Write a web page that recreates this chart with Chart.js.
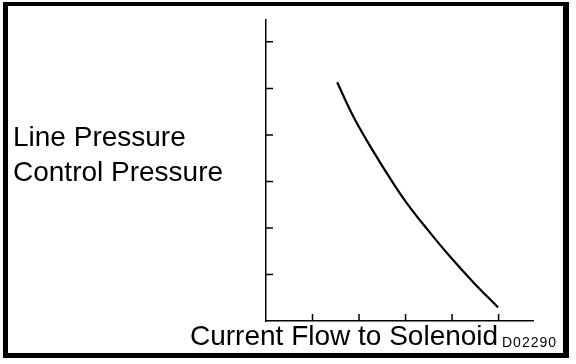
<!DOCTYPE html>
<html lang="en">
<head>
    <meta charset="UTF-8">
    <title>Line Pressure vs Current Flow to Solenoid</title>
    <script src="https://cdn.jsdelivr.net/npm/chart.js@4/dist/chart.umd.min.js"></script>
    <style>
    body {
      margin: 0;
      background: #fff;
    }
    .wrap {
      position: relative;
      width: 576px;
      height: 364px;
      font-family: "Liberation Sans", Arial, sans-serif;
      color: #000;
    }
    .frame {
      position: absolute;
      left: 3px;
      top: 2px;
      width: 566px;
      height: 356px;
      box-sizing: border-box;
      border: 5px solid #000;
      border-top-width: 4px;
      border-right-width: 6px;
    }
    .label {
      position: absolute;
      line-height: 1;
      white-space: nowrap;
    }
    canvas {
      position: absolute;
      left: 0;
      top: 0;
    }
    </style>
</head>
<body>
    <div class="wrap">
        <canvas id="pressureChart" width="576" height="364"></canvas>
        <div class="frame"></div>
        <div class="label" style="left:13px; top:123px; font-size:28px;">Line Pressure</div>
        <div class="label" style="left:13px; top:158px; font-size:28px;">Control Pressure</div>
        <div class="label" style="left:190px; top:322px; font-size:28px;">Current Flow to Solenoid</div>
        <div class="label" style="left:502px; top:335px; font-size:14px; letter-spacing:1px;">D02290</div>
    </div>

    <script>
        // curve (axis units = tick spacing)
        const currentFlow = [1.53, 1.88, 2.31, 2.71, 3.03, 3.46, 3.96, 4.46, 4.99];
        const linePressure = [5.13, 4.39, 3.64, 3.00, 2.53, 1.98, 1.38, 0.83, 0.29];
        const xTicks = [1, 2, 3, 4, 5];
        const yTicks = [1, 2, 3, 4, 5, 6];

        const points = currentFlow.map((x, i) => ({ x, y: linePressure[i] }));

        // short tick marks pointing into the plot
        const innerTicks = {
          id: 'innerTicks',
          afterDraw(chart) {
            const { ctx, scales: { x, y } } = chart;
            ctx.save();
            ctx.strokeStyle = '#000';
            ctx.lineWidth = 1.5;
            ctx.beginPath();
            xTicks.forEach(v => {
              const px = x.getPixelForValue(v);
              ctx.moveTo(px, y.bottom);
              ctx.lineTo(px, y.bottom - 7);
            });
            yTicks.forEach(v => {
              const py = y.getPixelForValue(v);
              ctx.moveTo(x.left, py);
              ctx.lineTo(x.left + 7, py);
            });
            ctx.stroke();
            ctx.restore();
          }
        };

        new Chart(document.getElementById('pressureChart'), {
          type: 'scatter',
          data: {
            datasets: [{
              data: points,
              showLine: true,
              borderColor: '#000',
              borderWidth: 2.2,
              pointRadius: 0,
              tension: 0.4
            }]
          },
          options: {
            responsive: false,
            animation: false,
            layout: { padding: { left: 266, top: 20, right: 43, bottom: 43 } },
            plugins: { legend: { display: false }, tooltip: { enabled: false } },
            scales: {
              x: {
                type: 'linear',
                min: 0,
                max: 5.74,
                grid: { display: false, drawTicks: false },
                border: { display: true, color: '#000', width: 1.5 },
                ticks: { display: false, stepSize: 1 }
              },
              y: {
                type: 'linear',
                min: 0,
                max: 6.47,
                grid: { display: false, drawTicks: false },
                border: { display: true, color: '#000', width: 1.5 },
                ticks: { display: false, stepSize: 1 }
              }
            }
          },
          plugins: [innerTicks]
        });
    </script>
</body>
</html>
